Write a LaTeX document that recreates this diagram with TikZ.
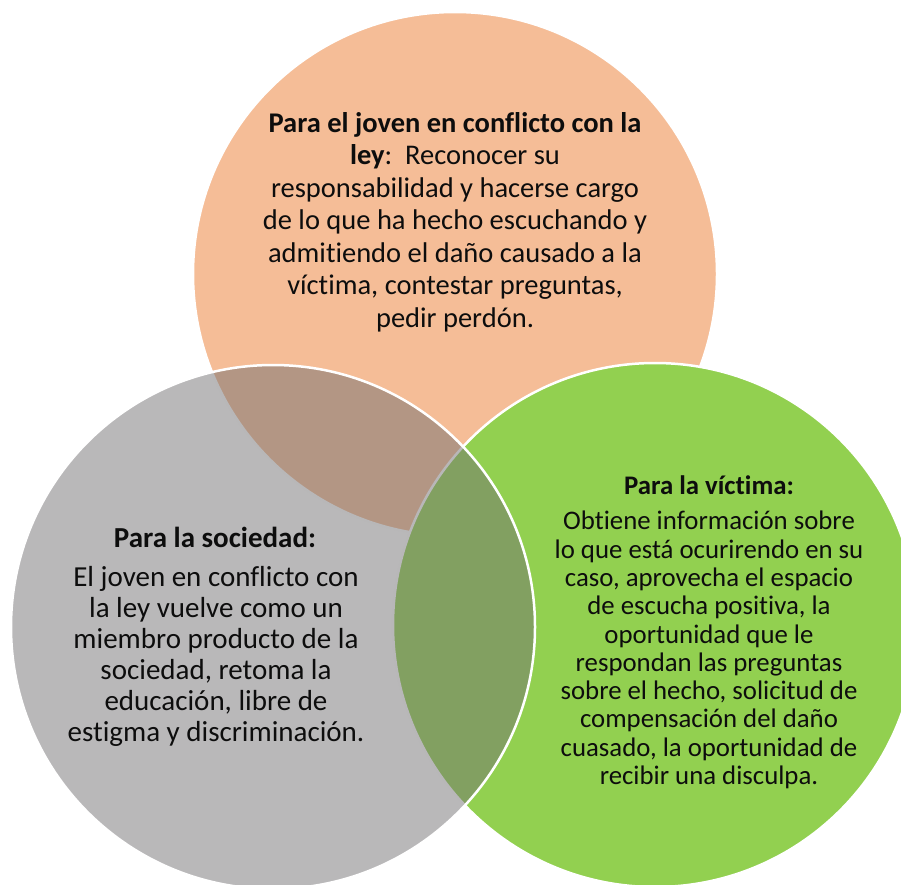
\documentclass[tikz,border=0pt]{standalone}
\usepackage{fontspec}
\setmainfont{Carlito}[Ligatures=NoCommon]
\usepackage{tikz}
\usetikzlibrary{positioning}
\definecolor{jovencol}{HTML}{F5BD97}
\definecolor{victimacol}{HTML}{92D050}
\definecolor{sociedadcol}{HTML}{737173}
\tikzset{circ/.style = {circle, draw=white, line width=2.5pt, minimum size=524pt, inner sep=0pt},
         txt/.style = {align=center, inner sep=0pt, text=black!95}}

\begin{document}
\begin{tikzpicture}[x=1pt, y=-1pt]
    \useasboundingbox (0, 0) rectangle (901, 884);

    % the three circles
    \node [circ, fill=jovencol] (joven) at (455, 274) {};
    \node [circ, fill=victimacol] (victima) at (655, 625) {};
    \node [circ, fill=sociedadcol, fill opacity=0.5] (sociedad) at (273, 627) {};

    % texts
    \node [txt, font=\fontsize{28.5}{32.5}\selectfont] (jovtext) at (455, 222)
      {\textbf{Para el joven en conflicto con la}\\
       \textbf{ley}:\ \ Reconocer su\\
       responsabilidad y hacerse cargo\\
       de lo que ha hecho escuchando y\\
       admitiendo el daño causado a la\\
       víctima, contestar preguntas,\\
       pedir perdón.};

    \node [txt, font=\bfseries\fontsize{29}{31}\selectfont] (soctitle) at (215, 537) {Para la sociedad:};
    \node [txt, font=\fontsize{29}{31}\selectfont] (soctext) at (216, 656)
      {El joven en conflicto con\\
       la ley vuelve como un\\
       miembro producto de la\\
       sociedad, retoma la\\
       educación, libre de\\
       estigma y discriminación.};

    \node [txt, font=\bfseries\fontsize{26.8}{28.3}\selectfont] (victitle) at (709, 485) {Para la víctima:};
    \node [txt, font=\fontsize{26.8}{28.3}\selectfont] (victext) at (709, 650)
      {Obtiene información sobre\\
       lo que está ocurirendo en su\\
       caso, aprovecha el espacio\\
       de escucha positiva, la\\
       oportunidad que le\\
       respondan las preguntas\\
       sobre el hecho, solicitud de\\
       compensación del daño\\
       cuasado, la oportunidad de\\
       recibir una disculpa.};
  \end{tikzpicture}
\end{document}
